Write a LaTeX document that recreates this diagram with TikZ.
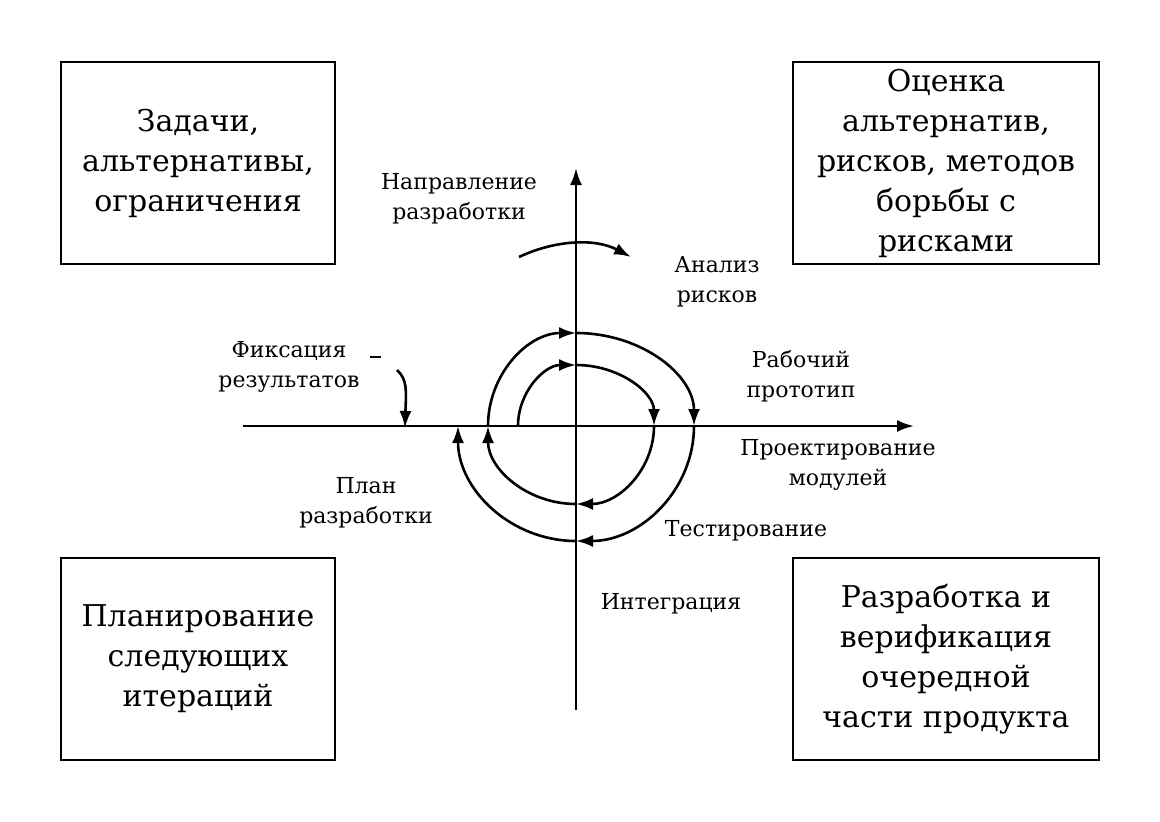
\documentclass[tikz,border=0pt]{standalone}
\usepackage{fontspec}
\setmainfont{DejaVu Serif}
\usetikzlibrary{arrows.meta}
\begin{document}
\begin{tikzpicture}[x=1pt,y=1pt,line width=2.6pt,
  tip/.style={-{Latex[length=17pt,width=12pt]}},
  box/.style={draw,line width=2.4pt,minimum width=274pt,minimum height=202pt,align=center,font=\fontsize{30}{40}\selectfont},
  lbl/.style={align=center,font=\fontsize{22}{30}\selectfont}]
\useasboundingbox (0,0) rectangle (1160,-822);
\node[box] (b1) at (198,-163) {Задачи,\\альтернативы,\\ограничения};
\node[box,minimum width=306pt] (b2) at (946,-163) {Оценка\\альтернатив,\\рисков, методов\\борьбы с\\рисками};
\node[box] (b3) at (198,-659) {Планирование\\следующих\\итераций};
\node[box,minimum width=306pt] (b4) at (946,-659) {Разработка и\\верификация\\очередной\\части продукта};
\coordinate (xl) at (243,-426); \coordinate (xr) at (914,-426);
\coordinate (yb) at (576,-710); \coordinate (yt) at (576,-168);
\draw[tip] (xl) -- (xr);
\draw[tip] (yb) -- (yt);
% spiral
\coordinate (s0) at (518,-426);
\draw[tip] (s0) arc[start angle=180,end angle=90,x radius=58,y radius=61] coordinate (s1);
\draw[tip] (s1) arc[start angle=90,end angle=0,x radius=78,y radius=61] coordinate (s2);
\draw[tip] (s2) arc[start angle=0,end angle=-90,x radius=78,y radius=78] coordinate (s3);
\draw[tip] (s3) arc[start angle=-90,end angle=-180,x radius=88,y radius=78] coordinate (s4);
\draw[tip] (s4) arc[start angle=180,end angle=90,x radius=88,y radius=93] coordinate (s5);
\draw[tip] (s5) arc[start angle=90,end angle=0,x radius=118,y radius=93] coordinate (s6);
\draw[tip] (s6) arc[start angle=0,end angle=-90,x radius=118,y radius=115] coordinate (s7);
\draw[tip] (s7) arc[start angle=-90,end angle=-180,x radius=118,y radius=115] coordinate (s8);
% direction arrow
\coordinate (d0) at (519,-257); \coordinate (d1) at (631,-257);
\draw[tip] (d0) .. controls (555,-240) and (595,-238) .. (d1);
% fixation
\coordinate (f0) at (370,-357); \coordinate (f1) at (381,-357);
\coordinate (f2) at (397,-370); \coordinate (f3) at (405,-428);
\draw (f0) -- (f1);
\draw[tip] (f2) .. controls (408,-380) and (406,-392) .. (f3);
\node[lbl] (l1) at (459,-199) {Направление\\разработки};
\node[lbl] (l2) at (717,-282) {Анализ\\рисков};
\node[lbl] (l3) at (289,-367) {Фиксация\\результатов};
\node[lbl] (l4) at (801,-376) {Рабочий\\прототип};
\node[lbl] (l5) at (838,-465) {Проектирование\\модулей};
\node[lbl] (l6) at (366,-503) {План\\разработки};
\node[lbl] (l7) at (746,-531) {Тестирование};
\node[lbl] (l8) at (671,-604) {Интеграция};
\end{tikzpicture}
\end{document}
